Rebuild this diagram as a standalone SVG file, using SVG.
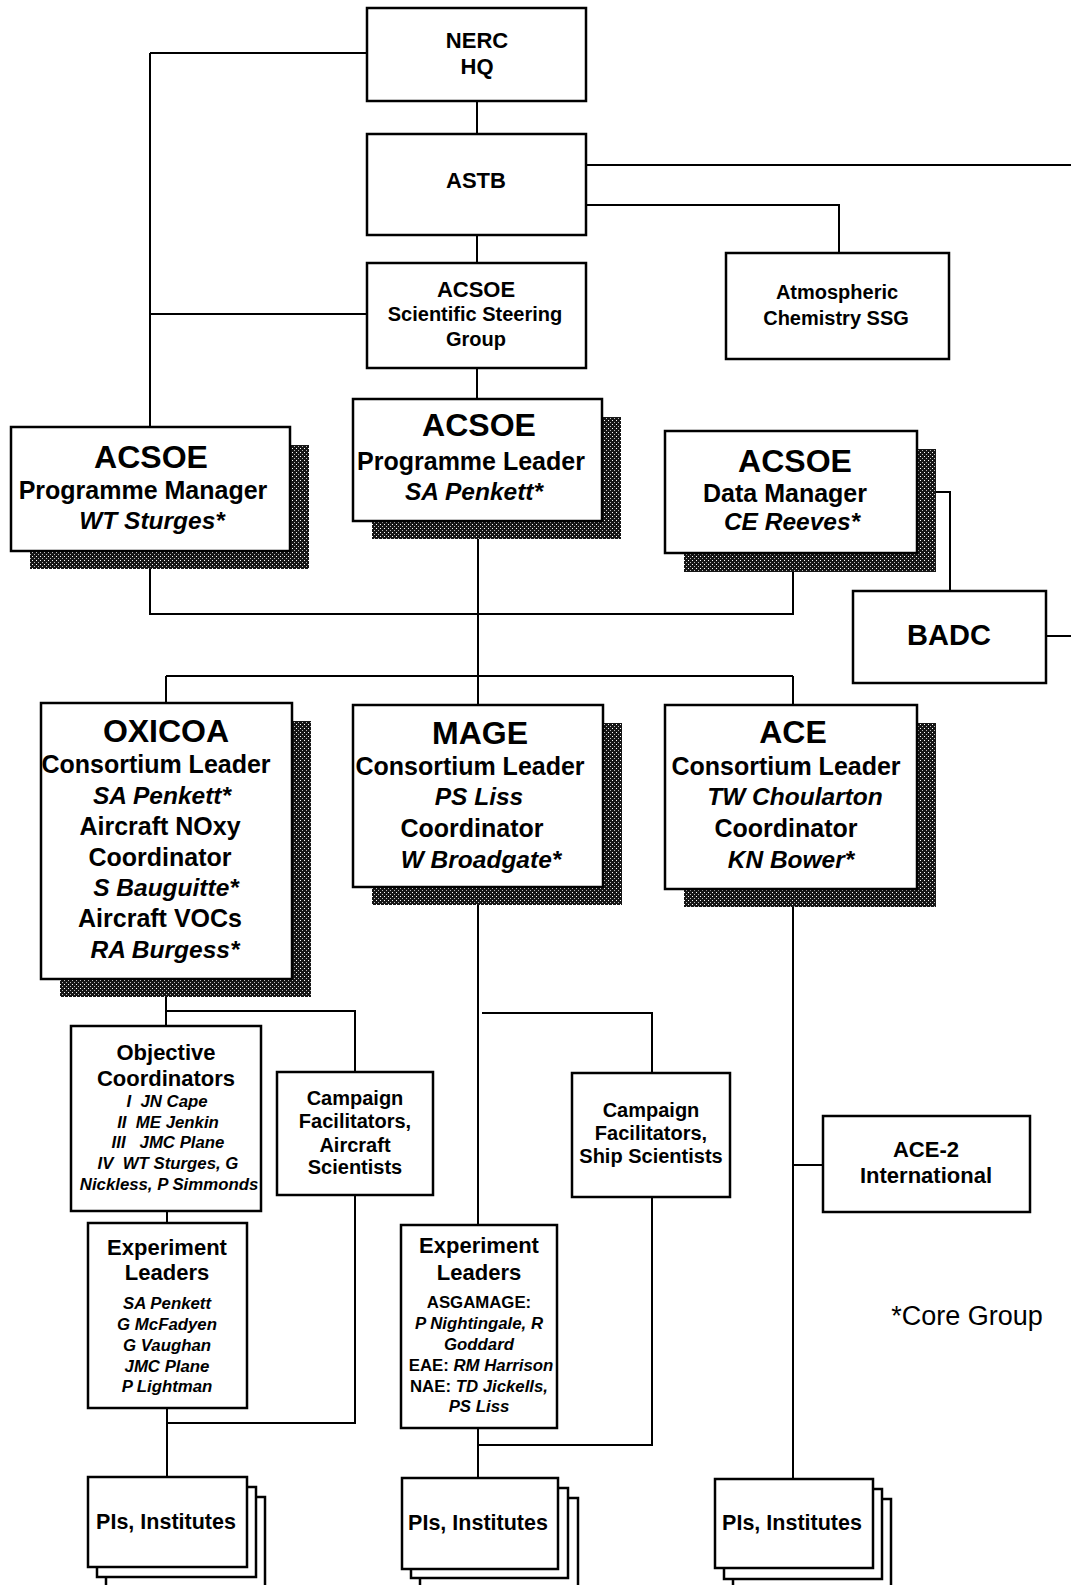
<svg xmlns="http://www.w3.org/2000/svg" width="1071" height="1585" viewBox="0 0 1071 1585">
<defs>
<pattern id="hatch" width="4" height="4" patternUnits="userSpaceOnUse">
<rect width="4" height="4" fill="#161616"/>
<rect x="0" y="0" width="1" height="1" fill="#ffffff"/>
<rect x="2" y="2" width="1" height="1" fill="#bbbbbb"/>
</pattern>
<style>
.box{fill:#fff;stroke:#000;stroke-width:2.5}
.sh{fill:url(#hatch)}
.ln{fill:none;stroke:#000;stroke-width:2}
text{font-family:"Liberation Sans",Arial,sans-serif;text-anchor:middle;fill:#000}
.b{font-weight:bold}
.i{font-style:italic;font-weight:bold}
.bi{font-style:italic;font-weight:bold}
.s32{font-size:32px}
.s29{font-size:29px}
.s26{font-size:24.5px}
.s25{font-size:25px}
.s22{font-size:22px}
.s21{font-size:21.5px}
.s20{font-size:20px}
.s17{font-size:16.8px}
.core{font-size:27px}
</style>
</defs>
<rect width="1071" height="1585" fill="#fff"/>

<g id="connectors">
<path class="ln" d="M150,53 H367 M150,53 V427 M150,314 H367"/>
<path class="ln" d="M477,101 V134 M477,235 V263 M477,368 V399"/>
<path class="ln" d="M587,165 H1071 M587,205 H839 V253"/>
<path class="ln" d="M936,492 H950 V591 M1046,636 H1071"/>
<path class="ln" d="M150,569 V614 H793 V572"/>
<path class="ln" d="M478,539 V705 M166,676 H793 M166,676 V703 M793,676 V705"/>
<path class="ln" d="M166,997 V1026 M166,1011 H355 V1072 M167,1211 V1223 M167,1408 V1477 M167,1423 H355 V1195"/>
<path class="ln" d="M478,905 V1225 M482,1013 H652 V1073 M478,1428 V1478 M478,1445 H652 V1197"/>
<path class="ln" d="M793,907 V1479 M793,1165 H823"/>
</g>

<g id="nerc-hq">
<rect class="box" x="367" y="8" width="219" height="93"/>
<text class="b s22" x="477" y="48">NERC</text>
<text class="b s22" x="477" y="74">HQ</text>
</g>

<g id="astb">
<rect class="box" x="367" y="134" width="219" height="101"/>
<text class="b s22" x="476" y="188">ASTB</text>
</g>

<g id="ssg">
<rect class="box" x="367" y="263" width="219" height="105"/>
<text class="b s22" x="476" y="297">ACSOE</text>
<text class="b s20" x="475" y="321">Scientific Steering</text>
<text class="b s20" x="476" y="346">Group</text>
</g>

<g id="atmos-ssg">
<rect class="box" x="726" y="253" width="223" height="106"/>
<text class="b s20" x="837" y="299">Atmospheric</text>
<text class="b s20" x="836" y="325">Chemistry SSG</text>
</g>

<g id="programme-manager">
<rect class="sh" x="30" y="445" width="279" height="124"/>
<rect class="box" x="11" y="427" width="279" height="124"/>
<text class="b s32" x="151" y="468">ACSOE</text>
<text class="b s25" x="143" y="499">Programme Manager</text>
<text class="i s26" x="152" y="529">WT Sturges*</text>
</g>

<g id="programme-leader">
<rect class="sh" x="372" y="417" width="249" height="122"/>
<rect class="box" x="353" y="399" width="249" height="122"/>
<text class="b s32" x="479" y="436">ACSOE</text>
<text class="b s25" x="471" y="470">Programme Leader</text>
<text class="i s26" x="474" y="500">SA Penkett*</text>
</g>

<g id="data-manager">
<rect class="sh" x="684" y="449" width="252" height="123"/>
<rect class="box" x="665" y="431" width="252" height="122"/>
<text class="b s32" x="795" y="472">ACSOE</text>
<text class="b s25" x="785" y="502">Data Manager</text>
<text class="i s26" x="792" y="530">CE Reeves*</text>
</g>

<g id="badc">
<rect class="box" x="853" y="591" width="193" height="92"/>
<text class="b s29" x="949" y="645">BADC</text>
</g>

<g id="oxicoa">
<rect class="sh" x="60" y="721" width="251" height="276"/>
<rect class="box" x="41" y="703" width="251" height="276"/>
<text class="b s32" x="166" y="742">OXICOA</text>
<text class="b s25" x="156" y="773">Consortium Leader</text>
<text class="i s26" x="162" y="804">SA Penkett*</text>
<text class="b s25" x="160" y="835">Aircraft NOxy</text>
<text class="b s25" x="160" y="866">Coordinator</text>
<text class="i s26" x="166" y="896">S Bauguitte*</text>
<text class="b s25" x="160" y="927">Aircraft VOCs</text>
<text class="i s26" x="165" y="958">RA Burgess*</text>
</g>

<g id="mage">
<rect class="sh" x="372" y="723" width="250" height="182"/>
<rect class="box" x="353" y="705" width="250" height="182"/>
<text class="b s32" x="480" y="744">MAGE</text>
<text class="b s25" x="470" y="775">Consortium Leader</text>
<text class="i s26" x="479" y="805">PS Liss</text>
<text class="b s25" x="472" y="837">Coordinator</text>
<text class="i s26" x="481" y="868">W Broadgate*</text>
</g>

<g id="ace">
<rect class="sh" x="684" y="723" width="252" height="184"/>
<rect class="box" x="665" y="705" width="252" height="184"/>
<text class="b s32" x="793" y="743">ACE</text>
<text class="b s25" x="786" y="775">Consortium Leader</text>
<text class="i s26" x="795" y="805">TW Choularton</text>
<text class="b s25" x="786" y="837">Coordinator</text>
<text class="i s26" x="791" y="868">KN Bower*</text>
</g>

<g id="objective-coordinators">
<rect class="box" x="71" y="1026" width="190" height="185"/>
<text class="b s22" x="166" y="1060">Objective</text>
<text class="b s22" x="166" y="1086">Coordinators</text>
<text class="bi s17" x="167" y="1107" xml:space="preserve">I  JN Cape</text>
<text class="bi s17" x="168" y="1128" xml:space="preserve">II  ME Jenkin</text>
<text class="bi s17" x="168" y="1148" xml:space="preserve">III   JMC Plane</text>
<text class="bi s17" x="168" y="1169" xml:space="preserve">IV  WT Sturges, G</text>
<text class="bi s17" x="169" y="1190">Nickless, P Simmonds</text>
</g>

<g id="campaign-aircraft">
<rect class="box" x="277" y="1072" width="156" height="123"/>
<text class="b s20" x="355" y="1105">Campaign</text>
<text class="b s20" x="355" y="1128">Facilitators,</text>
<text class="b s20" x="355" y="1152">Aircraft</text>
<text class="b s20" x="355" y="1174">Scientists</text>
</g>

<g id="campaign-ship">
<rect class="box" x="572" y="1073" width="158" height="124"/>
<text class="b s20" x="651" y="1117">Campaign</text>
<text class="b s20" x="651" y="1140">Facilitators,</text>
<text class="b s20" x="651" y="1163">Ship Scientists</text>
</g>

<g id="ace-2">
<rect class="box" x="823" y="1116" width="207" height="96"/>
<text class="b s22" x="926" y="1157">ACE-2</text>
<text class="b s22" x="926" y="1183">International</text>
</g>

<g id="experiment-leaders-oxicoa">
<rect class="box" x="88" y="1223" width="159" height="185"/>
<text class="b s22" x="167" y="1255">Experiment</text>
<text class="b s22" x="167" y="1280">Leaders</text>
<text class="bi s17" x="167" y="1309">SA Penkett</text>
<text class="bi s17" x="167" y="1330">G McFadyen</text>
<text class="bi s17" x="167" y="1351">G Vaughan</text>
<text class="bi s17" x="167" y="1372">JMC Plane</text>
<text class="bi s17" x="167" y="1392">P Lightman</text>
</g>

<g id="experiment-leaders-mage">
<rect class="box" x="401" y="1225" width="156" height="203"/>
<text class="b s22" x="479" y="1253">Experiment</text>
<text class="b s22" x="479" y="1280">Leaders</text>
<text class="b s17" x="479" y="1308">ASGAMAGE:</text>
<text class="bi s17" x="479" y="1329">P Nightingale, R</text>
<text class="bi s17" x="479" y="1350">Goddard</text>
<text class="b s17" x="481" y="1371">EAE: <tspan class="bi">RM Harrison</tspan></text>
<text class="b s17" x="479" y="1392">NAE: <tspan class="bi">TD Jickells,</tspan></text>
<text class="bi s17" x="479" y="1412">PS Liss</text>
</g>

<g id="pis-oxicoa">
<rect class="box" x="106" y="1497" width="159" height="92"/>
<rect class="box" x="97" y="1487" width="159" height="90"/>
<rect class="box" x="88" y="1477" width="159" height="90"/>
<text class="b s21" x="166" y="1529">PIs, Institutes</text>
</g>

<g id="pis-mage">
<rect class="box" x="420" y="1498" width="158" height="92"/>
<rect class="box" x="411" y="1488" width="157" height="90"/>
<rect class="box" x="402" y="1478" width="156" height="91"/>
<text class="b s21" x="478" y="1530">PIs, Institutes</text>
</g>

<g id="pis-ace">
<rect class="box" x="733" y="1499" width="158" height="92"/>
<rect class="box" x="724" y="1489" width="158" height="90"/>
<rect class="box" x="715" y="1479" width="158" height="89"/>
<text class="b s21" x="792" y="1530">PIs, Institutes</text>
</g>

<g id="legend">
<text class="core" x="967" y="1325">*Core Group</text>
</g>
</svg>
